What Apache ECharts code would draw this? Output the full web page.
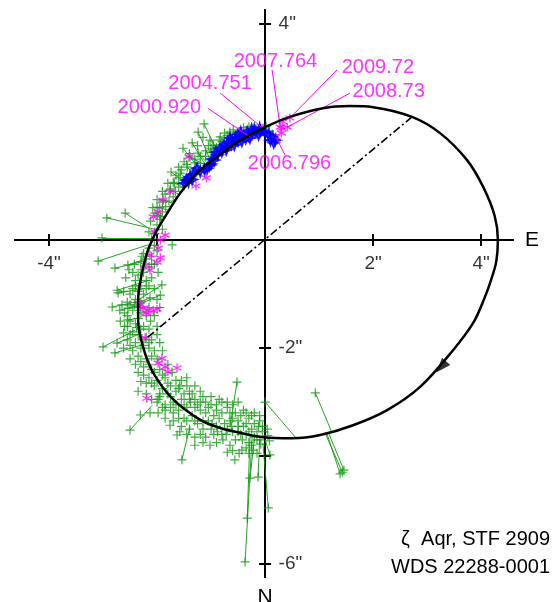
<!DOCTYPE html>
<html lang="en">
<head>
<meta charset="UTF-8">
<title>zeta Aqr orbit</title>
<script src="https://cdn.jsdelivr.net/npm/echarts@6/dist/echarts.min.js"></script>
<style>
  html, body { margin: 0; padding: 0; background: #fff; }
  #chart { width: 557px; height: 602px; }
</style>
</head>
<body>
<div id="chart"></div>
<script>
// apparent orbit (arcsec, x = east, y = north up)
const orbit = [
  [0, 2.09], [0.46, 2.28], [1.07, 2.44], [1.57, 2.48], [2.0, 2.46], [2.72, 2.28],
  [3.24, 1.98], [3.74, 1.48], [4.04, 0.98], [4.25, 0.45], [4.31, 0], [4.28, -0.4],
  [4.18, -0.75], [4.06, -1.08], [3.85, -1.54], [3.48, -2.04], [2.87, -2.72], [2.26, -3.15],
  [1.63, -3.43], [1.02, -3.61], [0.5, -3.67], [-0.04, -3.65], [-0.46, -3.57], [-0.83, -3.48],
  [-1.20, -3.33], [-1.72, -2.93], [-2.07, -2.46], [-2.26, -1.98], [-2.35, -1.48],
  [-2.35, -1.11], [-2.28, -0.61], [-2.17, -0.19], [-2.09, 0], [-2.01, 0.17],
  [-1.81, 0.5], [-1.57, 0.87], [-1.26, 1.24], [-0.89, 1.54], [-0.46, 1.85], [0, 2.09]
]
const nodeLine = [[2.72, 2.28], [-2.22, -1.84]]
const arrowPt = [[3.26, -2.35]]

// green measures with a visible O-C line: [x, y, xOrbit, yOrbit]
const greenLong = [
  [-1.13, 2.15, -0.85, 1.57], [-1.24, 2.0, -1.0, 1.45], [-1.35, 1.8, -1.1, 1.38],
  [-1.52, 1.70, -1.2, 1.3], [-1.02, 1.85, -0.8, 1.6], [-0.96, 1.76, -0.75, 1.66],
  [-1.24, 1.61, -1.05, 1.4], [-1.30, 1.43, -1.15, 1.32], [-1.44, 1.35, -1.3, 1.2],
  [-1.39, 1.54, -1.1, 1.38], [-1.74, 1.26, -1.45, 1.05], [-1.57, 1.24, -1.4, 1.08],
  [-1.70, 1.07, -1.5, 0.96], [-1.89, 0.74, -1.7, 0.68], [-2.0, 0.61, -1.78, 0.55],
  [-2.04, 0.5, -1.85, 0.42], [-1.76, 0.93, -1.6, 0.85], [-1.94, 0.43, -1.9, 0.35],
  [-0.83, 1.91, -0.65, 1.72], [-0.59, 2.04, -0.5, 1.85], [-0.70, 1.94, -0.6, 1.8],
  [-2.93, 0.41, -2.0, 0.19], [-2.59, 0.5, -2.19, 0.24], [-3.02, 0.04, -2.07, 0.04],
  [-3.09, -0.39, -2.17, -0.09], [-2.78, -0.52, -2.31, -0.41], [-2.54, -0.46, -2.2, -0.35],
  [-2.74, -0.93, -2.13, -0.74], [-2.72, -0.98, -2.25, -0.9], [-2.83, -1.24, -2.22, -1.11],
  [-2.69, -1.30, -2.3, -1.2], [-2.54, -1.26, -2.3, -1.2], [-1.91, -0.83, -2.35, -1.11],
  [-1.94, -1.02, -2.35, -1.2], [-2.13, -1.07, -2.3, -1.15], [-3.0, -1.98, -2.41, -1.67],
  [-2.74, -1.91, -2.35, -1.75], [-2.78, -2.09, -2.3, -1.95], [-2.54, -1.48, -2.36, -1.45],
  [-2.5, -3.52, -2.09, -3.06], [-1.54, -4.07, -1.39, -3.46], [-0.52, -2.63, -0.65, -3.46],
  [-0.37, -5.96, -0.24, -3.65], [-0.33, -5.15, -0.28, -3.65], [0.06, -4.96, -0.04, -3.76],
  [0.09, -3.98, 0.0, -3.7], [-0.13, -4.39, -0.1, -3.7], [-0.28, -4.41, -0.2, -3.7],
  [0.0, -3.0, 0.56, -3.65], [0.93, -2.83, 1.24, -3.57], [1.43, -4.30, 1.11, -3.57],
  [1.46, -4.26, 1.17, -3.56], [1.39, -4.33, 1.14, -3.57]
]

// green measures close to the orbit
const greenBand = [
  [-0.4, 2.08], [-0.3, 2.1], [-0.2, 2.1], [-0.1, 2.13], [0.02, 2.1], [0.08, 2.02], [0.15, 1.95],
  [-0.8, 1.82], [-0.9, 1.72], [-1.0, 1.62], [-1.1, 1.55], [-1.2, 1.42],
  [-1.3, 1.3], [-1.38, 1.22], [-1.45, 1.15], [-1.52, 1.05], [-1.6, 0.98], [-1.66, 0.9],
  [-1.7, 0.8], [-1.78, 0.72], [-1.84, 0.62], [-1.9, 0.52], [-1.95, 0.38], [-2.0, 0.28],
  [-2.05, 0.12], [-1.9, 0.2], [-2.1, 0.02], [-1.72, -0.09],
  [-1.0, 1.7], [-1.1, 1.65], [-1.2, 1.55], [-1.3, 1.5], [-1.45, 1.4], [-1.55, 1.3],
  [-1.6, 1.15], [-1.68, 1.05], [-1.75, 0.95], [-1.85, 0.85], [-1.9, 0.7], [-1.95, 0.6],
  [-2.0, 0.45], [-0.55, 1.95], [-0.65, 2.0], [-0.75, 1.98], [-0.85, 1.85], [-0.95, 1.68],
  [-1.05, 1.75], [-1.15, 1.9], [-1.25, 1.75], [-1.4, 1.6], [-1.5, 1.45], [-1.6, 1.35],
  [-1.65, 1.2], [-1.8, 1.05], [-1.9, 0.9], [-2.0, 0.75], [-2.08, 0.6], [-2.12, 0.35], [-2.15, 0.15],
  [-2.0, -0.2], [-2.1, -0.3], [-2.2, -0.35], [-2.3, -0.4], [-2.15, -0.5], [-2.25, -0.6],
  [-2.35, -0.65], [-2.4, -0.75], [-2.2, -0.75], [-2.3, -0.85], [-2.45, -0.9], [-2.35, -0.95],
  [-2.25, -1.0], [-2.5, -1.0], [-2.4, -1.1], [-2.3, -1.15], [-2.55, -1.15], [-2.2, -0.9],
  [-2.1, -0.7], [-2.45, -1.3], [-2.3, -1.35], [-2.2, -1.4], [-2.5, -1.5], [-2.4, -1.55],
  [-2.25, -1.6], [-2.15, -1.65], [-2.45, -1.7], [-2.35, -1.75], [-2.2, -1.8], [-2.1, -1.85],
  [-2.4, -1.9], [-2.3, -2.0], [-2.15, -2.0], [-2.05, -2.05], [-2.35, -2.15], [-2.2, -2.2],
  [-2.0, -2.2], [-2.25, -2.35], [-2.1, -2.4], [-1.95, -2.4], [-2.15, -2.55], [-2.0, -2.6],
  [-1.85, -2.55], [-2.05, -2.7], [-1.9, -2.75], [-1.75, -2.7], [-2.55, -1.85], [-2.6, -1.6],
  [-2.6, -1.35], [-2.0, -1.6], [-2.05, -1.4], [-1.95, -1.9],
  [-2.05, -0.1], [-2.15, -0.15], [-2.25, -0.25], [-2.05, -0.45], [-2.3, -0.55], [-2.45, -0.6],
  [-2.15, -0.85], [-2.4, -0.85], [-2.5, -1.2], [-2.35, -1.25], [-2.15, -1.25], [-2.55, -1.4],
  [-2.35, -1.45], [-2.12, -1.5], [-2.3, -1.65], [-2.5, -1.75], [-2.15, -1.9], [-2.25, -1.95],
  [-2.45, -2.05], [-2.1, -2.15], [-2.3, -2.25], [-2.15, -2.3], [-2.05, -2.45], [-1.9, -2.5],
  [-2.2, -2.65], [-1.8, -2.65], [-1.95, -2.85], [-2.1, -2.95],
  [-2.58, -0.7], [-2.62, -0.95], [-2.52, -0.55], [-2.42, -0.45], [-2.28, -0.3], [-2.1, -0.45],
  [-1.98, -0.6], [-2.05, -0.9], [-2.0, -1.1], [-1.95, -1.25], [-2.42, -1.2], [-2.65, -1.2],
  [-2.68, -1.5], [-2.55, -1.6], [-2.38, -1.62], [-2.62, -1.72], [-2.28, -1.85], [-2.5, -1.95],
  [-2.62, -2.0], [-2.4, -2.3], [-2.5, -2.2], [-2.35, -2.45], [-2.25, -2.5], [-2.3, -2.62],
  [-2.1, -2.65], [-1.98, -2.95], [-2.2, -2.85], [-2.35, -2.8], [-2.0, -1.75], [-1.9, -2.05],
  [-1.8, -2.3], [-1.72, -2.45], [-1.65, -2.6], [-1.58, -2.7], [-1.45, -2.7],
  [-1.95, -2.9], [-1.8, -2.85], [-1.65, -2.8], [-1.85, -3.05], [-1.7, -3.0], [-1.55, -2.95],
  [-1.6, -3.15], [-1.45, -3.1], [-1.4, -2.95], [-1.3, -3.1], [-1.5, -3.3], [-1.35, -3.25],
  [-1.2, -3.15], [-1.1, -3.2], [-1.25, -3.4], [-1.05, -3.35], [-0.95, -3.25], [-0.85, -3.3],
  [-1.0, -3.5], [-0.9, -3.45], [-0.75, -3.4], [-0.65, -3.35], [-0.8, -3.6], [-0.6, -3.55],
  [-0.5, -3.45], [-0.4, -3.45], [-0.55, -3.7], [-0.35, -3.6], [-0.25, -3.5], [-0.15, -3.55],
  [-0.3, -3.75], [-0.1, -3.7], [-1.6, -2.75], [-1.4, -2.8], [-1.2, -2.8], [-1.0, -2.9],
  [-0.9, -3.05], [-0.7, -3.1], [-0.55, -3.2], [-0.45, -3.25], [-0.3, -3.3], [-0.2, -3.4],
  [-1.3, -2.7], [-0.8, -3.2], [-0.6, -3.3], [-0.35, -3.4], [-1.76, -3.43], [-1.63, -3.61],
  [-1.02, -3.8], [-0.56, -4.07], [-0.70, -3.93], [-0.43, -3.89], [-0.22, -3.89],
  [-2.31, -3.24], [-2.13, -3.2], [-1.98, -3.2], [-1.2, -3.6], [-1.4, -3.5], [-0.05, -3.55],
  [0.05, -3.62],
  [-1.75, -2.9], [-1.5, -2.85], [-1.35, -2.85], [-1.1, -3.0], [-1.25, -3.05], [-0.8, -3.0],
  [-0.6, -3.05], [-0.4, -3.15], [-0.25, -3.25], [-0.1, -3.35], [-0.05, -3.45], [-0.15, -3.7],
  [-0.45, -3.6], [-0.7, -3.5], [-0.95, -3.6], [-1.15, -3.5], [-1.45, -3.35], [-1.55, -3.45],
  [-1.7, -3.2], [-1.85, -3.3], [-0.9, -3.75], [-0.65, -3.8], [-0.35, -3.85], [-1.15, -3.75],
  [-1.3, -3.65], [-1.9, -3.1], [-2.0, -3.0], [-1.05, -3.1], [-0.5, -3.0], [-0.3, -3.55],
  [-0.2, -3.65], [-0.08, -3.78], [0.04, -3.5], [0.08, -3.72],
  [-1.85, -3.15], [-1.75, -3.1], [-1.65, -3.05], [-1.5, -3.05], [-1.38, -3.0], [-1.3, -3.35],
  [-1.15, -3.35], [-0.98, -3.4], [-0.88, -3.55], [-0.72, -3.6], [-0.62, -3.45], [-0.5, -3.55],
  [-0.42, -3.7], [-0.25, -3.8], [-0.12, -3.45], [-1.6, -3.3], [-1.7, -3.35], [-1.58, -3.55],
  [-1.45, -3.6], [-1.3, -3.8], [-1.1, -3.65], [-0.78, -3.7], [-0.6, -3.9], [-0.48, -3.95],
  [-0.3, -3.95], [-0.15, -3.95], [-1.0, -3.05], [-0.85, -2.95], [-0.7, -3.0], [-0.65, -3.2],
  [-0.5, -3.35], [-0.35, -3.2], [-0.2, -3.2], [-0.1, -3.25], [-1.15, -2.9], [-1.3, -2.95],
  [-1.55, -2.6], [-1.45, -2.55], [-0.9, -3.15], [-1.2, -3.0]
]

// blue (speckle) measures
const bluePts = [
  [-1.46, 1.11], [-1.39, 1.17], [-1.33, 1.22], [-1.26, 1.33], [-1.07, 1.33], [-1.0, 1.41],
  [-0.94, 1.48], [-0.91, 1.63], [-0.83, 1.70], [-0.76, 1.76], [-0.69, 1.81], [-0.61, 1.85],
  [-0.54, 1.89], [-0.46, 1.91], [-0.39, 1.93], [-0.31, 1.94], [-0.24, 1.98], [-0.17, 2.0],
  [-0.09, 2.02], [0.06, 1.96], [0.13, 1.91], [0.19, 1.85], [-0.72, 1.67], [-0.57, 1.76],
  [-0.43, 1.83], [-0.28, 1.89], [-0.65, 1.89], [-0.5, 1.96], [-0.33, 2.0], [-0.2, 2.04],
  [-1.5, 1.05], [-1.42, 1.08], [-1.35, 1.12], [-1.2, 1.27], [-1.12, 1.3], [-1.03, 1.38],
  [-0.98, 1.5], [-0.88, 1.58], [-0.8, 1.64], [-0.7, 1.74], [-0.62, 1.78], [-0.5, 1.84],
  [-0.36, 1.88], [-0.12, 1.95], [0.0, 1.98], [0.1, 1.85], [0.16, 1.8], [-0.45, 2.0],
  [-0.25, 2.05], [-0.1, 2.06]
]

// magenta measures
const magentaPts = [
  [-1.41, 1.54], [-1.09, 1.15], [-1.28, 1.0], [-1.76, 0.89], [-1.98, 0.52], [-2.07, 0.43],
  [-1.89, 0.74], [-2.04, 0.15], [-1.94, 0], [-1.85, 0.09], [-1.98, -0.15], [-2.13, -0.28],
  [-1.94, -0.33], [-2.22, -0.46], [-2.13, -0.56], [-2.0, -0.41], [-2.26, -1.26],
  [-2.17, -1.30], [-2.07, -1.31], [-2.0, -1.28], [-2.2, -1.35], [-2.31, -1.2], [-2.22, -1.81],
  [-1.91, -2.19], [-1.98, -2.28], [-1.63, -2.37], [-1.85, -2.35], [-2.19, -2.93], [-1.80, -2.44],
  [-0.31, 1.89], [-0.04, 2.07], [0.2, 1.91], [0.28, 2.09], [0.46, 2.26], [0.41, 2.09],
  [0.33, 2.19], [0.31, 2.07], [0.30, 1.98]
]

// labelled epochs: text, label anchor, leader line end on the measure
const epochLabels = ['2007.764', '2004.751', '2000.920', '2006.796', '2009.72', '2008.73']
const epochAnchor = [[-0.59, 3.31], [-1.80, 2.89], [-2.74, 2.46], [-0.33, 1.41], [1.41, 3.20], [1.61, 2.76]]
const epochLeader = [
  [0.13, 3.15, 0.28, 2.09], [-0.83, 2.72, -0.04, 2.07], [-1.06, 2.44, -0.28, 1.91],
  [0.37, 1.57, 0.2, 1.91], [1.33, 3.15, 0.46, 2.26], [1.57, 2.72, 0.41, 2.09]
]

const xTicks = [-4, -2, 2, 4]
const xTickLabels = [-4, 2, 4]
const yTicks = [-6, -4, -2, 2, 4]
const yTickLabels = [-6, -2, 4]

const FONT = '"Liberation Sans", Arial, sans-serif'
const GREEN = '#0f990f'
const MAGENTA = '#ff00ff'
const PLUS = 'path://M0,5L10,5M5,0L5,10'
const ASTER = 'path://M5,0L5,10M0.67,2.5L9.33,7.5M0.67,7.5L9.33,2.5'
const STAR = 'path://M5,0L6.3,3.7L10,5L6.3,6.3L5,10L3.7,6.3L0,5L3.7,3.7Z'

addEventListener('load', () => {
  let chart = echarts.init(document.querySelector('#chart'))
  let tickStyle = {color: '#000', width: 2}
  let tickText = {show: true, color: '#000', fontSize: 19, fontFamily: FONT, formatter: p => p.value[p.value[0] === 0 ? 1 : 0] + '"'}
  let nameStyle = {color: '#000', fontSize: 21, fontFamily: FONT}
  let xRange = {type: 'value', min: -4.63, max: 4.59, position: 'bottom', splitLine: {show: false}}
  let yRange = {type: 'value', min: -6.24, max: 4.26, position: 'right', splitLine: {show: false}}

  let option = {
    animation: false,
    backgroundColor: '#fff',
    grid: {left: 15, right: 44, top: 10, bottom: 25, containLabel: false, outerBoundsMode: 'none'},
    xAxis: [
      Object.assign({}, xRange, {
        axisLine: {onZero: true, onZeroAxisIndex: 0, lineStyle: tickStyle},
        axisTick: {customValues: xTicks, length: 6, lineStyle: tickStyle},
        axisLabel: {show: false},
        name: 'E', nameLocation: 'end', nameGap: 12, nameTextStyle: nameStyle
      }),
      Object.assign({}, xRange, {
        axisLine: {onZero: true, onZeroAxisIndex: 0, lineStyle: tickStyle},
        axisTick: {customValues: xTicks, inside: true, length: 6, lineStyle: tickStyle},
        axisLabel: {show: false}
      })
    ],
    yAxis: [
      Object.assign({}, yRange, {
        axisLine: {onZero: true, onZeroAxisIndex: 0, lineStyle: tickStyle},
        axisTick: {customValues: yTicks, length: 6, lineStyle: tickStyle},
        axisLabel: {show: false},
        name: 'N', nameLocation: 'start', nameGap: 10, nameTextStyle: nameStyle
      }),
      Object.assign({}, yRange, {
        axisLine: {onZero: true, onZeroAxisIndex: 0, lineStyle: tickStyle},
        axisTick: {customValues: yTicks, inside: true, length: 6, lineStyle: tickStyle},
        axisLabel: {show: false}
      })
    ],
    graphic: [
      {type: 'text', right: 7, top: 529, style: {text: 'ζ  Aqr, STF 2909', font: '20px ' + FONT, fill: '#000'}},
      {type: 'text', right: 7, top: 557, style: {text: 'WDS 22288-0001', font: '20px ' + FONT, fill: '#000'}}
    ],
    series: [
      {
        type: 'lines', coordinateSystem: 'cartesian2d', silent: true, z: 2,
        data: greenLong.map(p => ({coords: [[p[0], p[1]], [p[2], p[3]]]})),
        lineStyle: {color: GREEN, width: 1, opacity: 0.9}
      },
      {
        type: 'scatter', silent: true, z: 3, symbol: PLUS, symbolSize: 9,
        data: greenLong.map(p => [p[0], p[1]]).concat(greenBand),
        itemStyle: {color: 'rgba(0,0,0,0)', borderColor: GREEN, borderWidth: 1.2}
      },
      {
        type: 'scatter', silent: true, z: 4, symbol: ASTER, symbolSize: 9,
        data: magentaPts,
        itemStyle: {color: 'rgba(0,0,0,0)', borderColor: MAGENTA, borderWidth: 1.3}
      },
      {
        type: 'scatter', silent: true, z: 5, symbol: STAR, symbolSize: 11,
        data: bluePts,
        itemStyle: {color: '#0000ff', borderColor: '#0000ff', borderWidth: 1.5}
      },
      {
        type: 'lines', coordinateSystem: 'cartesian2d', silent: true, z: 6,
        data: epochLeader.map(p => ({coords: [[p[0], p[1]], [p[2], p[3]]]})),
        lineStyle: {color: MAGENTA, width: 1, opacity: 1}
      },
      {
        type: 'line', silent: true, z: 7, data: orbit, smooth: 0.35, showSymbol: false,
        lineStyle: {color: '#000', width: 2.5}
      },
      {
        type: 'line', silent: true, z: 7, data: nodeLine, showSymbol: false,
        lineStyle: {color: '#000', width: 1.6, type: [8, 3, 2, 3]}
      },
      {
        type: 'scatter', silent: true, z: 8, data: arrowPt, symbol: 'triangle',
        symbolSize: [11, 15], symbolRotate: 138, itemStyle: {color: '#000'}
      },
      {
        // tick labels on the axes through the origin
        type: 'scatter', silent: true, z: 9, symbolSize: 1, itemStyle: {color: 'rgba(0,0,0,0)'},
        data: xTickLabels.map(v => [v, 0]),
        label: Object.assign({position: 'bottom', distance: 14}, tickText)
      },
      {
        type: 'scatter', silent: true, z: 9, symbolSize: 1, itemStyle: {color: 'rgba(0,0,0,0)'},
        data: yTickLabels.map(v => [0, v]),
        label: Object.assign({position: 'right', distance: 13}, tickText)
      },
      {
        type: 'scatter', silent: true, z: 9, symbolSize: 1,
        data: epochAnchor,
        itemStyle: {color: 'rgba(0,0,0,0)'},
        label: {
          show: true, position: 'right', distance: 0,
          formatter: p => epochLabels[p.dataIndex],
          color: MAGENTA, fontSize: 20, fontFamily: FONT
        }
      }
    ]
  }
  chart.setOption(option)
})
</script>
</body>
</html>
